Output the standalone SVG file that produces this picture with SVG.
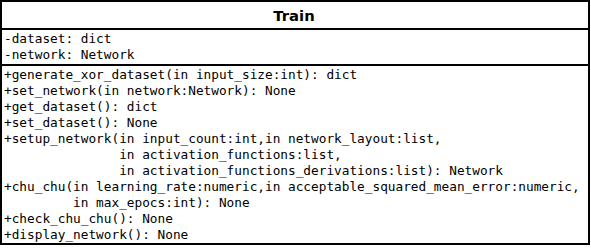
<svg xmlns="http://www.w3.org/2000/svg" width="591" height="248" viewBox="0 0 591 248">
  <style>
    .box { fill: #ffffff; stroke: #000000; stroke-width: 2; }
    .sep { stroke: #000000; stroke-width: 2; }
    .title { font-family: "DejaVu Sans", sans-serif; font-weight: bold; font-size: 14.8px; fill: #000; }
    .m { font-family: "DejaVu Sans Mono", monospace; font-size: 12.75px; fill: #000; white-space: pre; }
  </style>
  <rect width="591" height="248" fill="#ffffff"/>
  <g id="Train">
    <rect class="box" x="1" y="1" width="588" height="243"/>
    <text class="title" x="294" y="21" text-anchor="middle">Train</text>
    <line class="sep" x1="1" y1="29" x2="589" y2="29"/>
    <text class="m" x="4" y="43">-dataset: dict</text>
    <text class="m" x="4" y="59">-network: Network</text>
    <line class="sep" x1="1" y1="65" x2="589" y2="65"/>
    <text class="m" x="4" y="79">+generate_xor_dataset(in input_size:int): dict</text>
    <text class="m" x="4" y="95">+set_network(in network:Network): None</text>
    <text class="m" x="4" y="111">+get_dataset(): dict</text>
    <text class="m" x="4" y="127">+set_dataset(): None</text>
    <text class="m" x="4" y="143">+setup_network(in input_count:int,in network_layout:list,</text>
    <text class="m" x="4" y="159" xml:space="preserve">               in activation_functions:list,</text>
    <text class="m" x="4" y="175" xml:space="preserve">               in activation_functions_derivations:list): Network</text>
    <text class="m" x="4" y="191">+chu_chu(in learning_rate:numeric,in acceptable_squared_mean_error:numeric,</text>
    <text class="m" x="4" y="207" xml:space="preserve">         in max_epocs:int): None</text>
    <text class="m" x="4" y="223">+check_chu_chu(): None</text>
    <text class="m" x="4" y="239">+display_network(): None</text>
  </g>
  <g id="connectors"/>
</svg>
